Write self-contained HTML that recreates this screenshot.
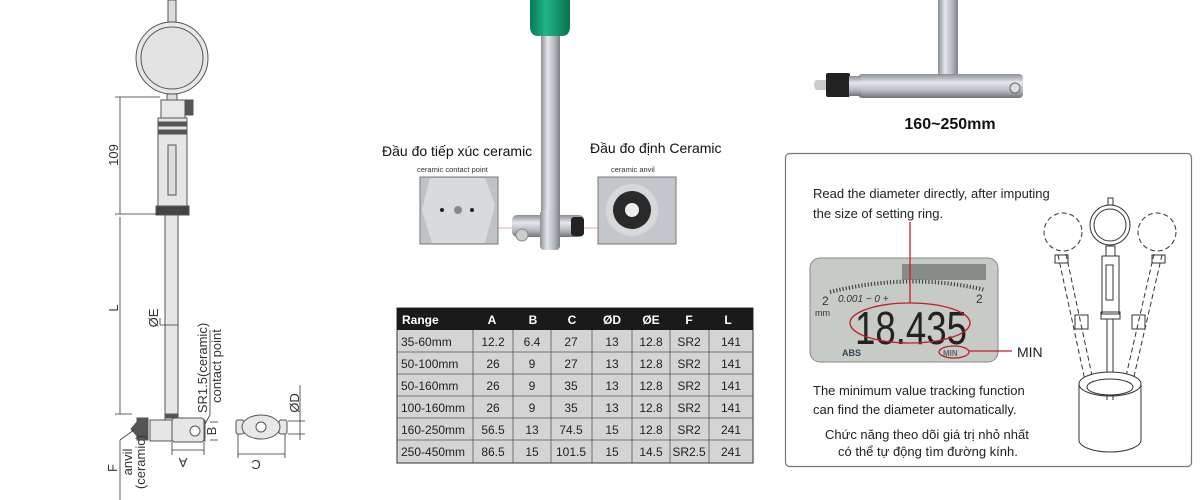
<!DOCTYPE html>
<html><head><meta charset="utf-8"><style>
html,body{margin:0;padding:0;background:#fff;width:1200px;height:500px;overflow:hidden}
svg{display:block}
text{font-family:"Liberation Sans","DejaVu Sans",sans-serif}
</style></head><body>
<svg width="1200" height="500" viewBox="0 0 1200 500" xmlns="http://www.w3.org/2000/svg">
<defs>
<linearGradient id="metal" x1="0" x2="1" y1="0" y2="0">
<stop offset="0" stop-color="#8a8f95"/><stop offset="0.35" stop-color="#e4e7ea"/><stop offset="0.7" stop-color="#b5babf"/><stop offset="1" stop-color="#7c8187"/></linearGradient>
<linearGradient id="metalH" x1="0" x2="0" y1="0" y2="1">
<stop offset="0" stop-color="#8a8f95"/><stop offset="0.35" stop-color="#e4e7ea"/><stop offset="0.7" stop-color="#b5babf"/><stop offset="1" stop-color="#6f747a"/></linearGradient>
<linearGradient id="green" x1="0" x2="1"><stop offset="0" stop-color="#0a7a55"/><stop offset="0.4" stop-color="#1fb586"/><stop offset="1" stop-color="#0a6f4d"/></linearGradient>
</defs>

<!-- ===== LEFT DRAWING ===== -->
<g stroke="#555" fill="#eee" stroke-width="1">
<rect x="168" y="0" width="8" height="22" fill="#ddd"/>
<circle cx="172" cy="58" r="36" fill="#e8e8e8"/>
<circle cx="172" cy="58" r="31" fill="#e3e3e3"/>
<rect x="167" y="94" width="10" height="6" fill="#ddd"/>
<rect x="161" y="100" width="24" height="18" fill="#e8e8e8"/>
<rect x="185" y="100" width="8" height="15" fill="#555"/>
<path d="M158 118 H187 V210 H158 Z" fill="#e6e6e6"/>
<rect x="158" y="122" width="29" height="4" fill="#555"/>
<rect x="158" y="130" width="29" height="4" fill="#555"/>
<rect x="168" y="145" width="8" height="50" fill="#ddd"/>
<rect x="156" y="206" width="33" height="9" fill="#444"/>
<rect x="165" y="215" width="13" height="205" fill="#e6e6e6"/>
<rect x="165" y="414" width="13" height="4" fill="#555"/>
<rect x="150" y="420" width="55" height="21" fill="#e6e6e6"/>
<rect x="172" y="418" width="32" height="24" rx="3" fill="#e6e6e6"/>
<circle cx="195" cy="431" r="5" fill="#fff"/>
<rect x="137" y="418" width="11" height="22" fill="#555"/>
<path d="M137 422 L131 429 L137 436Z" fill="#555"/>
</g>
<g stroke="#333" stroke-width="0.8" fill="none">
<line x1="115" y1="97" x2="160" y2="97"/><line x1="115" y1="214" x2="160" y2="214"/>
<line x1="120" y1="97" x2="120" y2="214"/>
<line x1="120" y1="217" x2="120" y2="414"/>
<line x1="115" y1="414" x2="132" y2="414"/>
<line x1="160" y1="325" x2="178" y2="325"/><line x1="160" y1="318" x2="160" y2="325"/>
<line x1="172" y1="442" x2="172" y2="455"/><line x1="204" y1="442" x2="204" y2="455"/>
<line x1="172" y1="450" x2="204" y2="450"/>
<line x1="210" y1="422" x2="218" y2="422"/><line x1="210" y1="440" x2="218" y2="440"/>
<line x1="210" y1="330" x2="210" y2="415"/><line x1="210" y1="415" x2="205" y2="424"/>
<line x1="120" y1="440" x2="134" y2="430"/><line x1="120" y1="440" x2="120" y2="500"/>
<line x1="238" y1="432" x2="238" y2="458"/><line x1="285" y1="432" x2="285" y2="458"/>
<line x1="238" y1="454" x2="285" y2="454"/>
<line x1="288" y1="421" x2="305" y2="421"/><line x1="288" y1="434" x2="305" y2="434"/>
<line x1="300" y1="385" x2="300" y2="440"/>
</g>
<g stroke="#555" fill="#e8e8e8">
<rect x="236" y="420" width="8" height="14" rx="2"/><rect x="279" y="420" width="8" height="14" rx="2"/>
<ellipse cx="261" cy="427" rx="19" ry="12"/>
<circle cx="261" cy="427" r="5" fill="#fff"/>
</g>
<g fill="#333" font-size="13">
<text transform="translate(118,155) rotate(-90)" text-anchor="middle">109</text>
<text transform="translate(118,308) rotate(-90)" text-anchor="middle">L</text>
<text transform="translate(158,318) rotate(-90)" text-anchor="middle">ØE</text>
<text transform="translate(207,368) rotate(-90)" text-anchor="middle">SR1.5(ceramic)</text>
<text transform="translate(221,366) rotate(-90)" text-anchor="middle">contact point</text>
<text transform="translate(216,431) rotate(-90)" text-anchor="middle">B</text>
<text transform="translate(183,458) rotate(180)" text-anchor="middle">A</text>
<text transform="translate(256,460) rotate(180)" text-anchor="middle">C</text>
<text transform="translate(299,403) rotate(-90)" text-anchor="middle">ØD</text>
<text transform="translate(117,468) rotate(-90)" text-anchor="middle">F</text>
<text transform="translate(132,462) rotate(-90)" text-anchor="middle">anvil</text>
<text transform="translate(145,462) rotate(-90)" text-anchor="middle">(ceramic)</text>
</g>

<!-- ===== MIDDLE PHOTO ===== -->
<path d="M530 0 H570 V26 Q570 36 562 36 H538 Q530 36 530 26Z" fill="url(#green)"/>
<rect x="541" y="36" width="19" height="182" fill="url(#metal)"/>
<rect x="512" y="215" width="72" height="22" rx="5" fill="url(#metalH)"/>
<rect x="540" y="210" width="20" height="40" rx="4" fill="url(#metal)"/>
<rect x="571" y="217" width="13" height="19" rx="3" fill="#222"/>
<circle cx="522" cy="235" r="6" fill="#ccc" stroke="#888"/>
<line x1="498" y1="228" x2="512" y2="228" stroke="#e66" stroke-width="0.6"/>
<line x1="584" y1="228" x2="598" y2="228" stroke="#e66" stroke-width="0.6"/>
<g font-size="14" fill="#111">
<text x="382" y="156">Đầu đo tiếp xúc ceramic</text>
<text x="590" y="153">Đầu đo  định Ceramic</text>
</g>
<g font-size="7.5" fill="#333">
<text x="417" y="172">ceramic contact point</text>
<text x="611" y="172">ceramic anvil</text>
</g>
<rect x="420" y="177" width="78" height="67" fill="#bfc3c7" stroke="#777"/>
<path d="M430 178 L485 178 L495 205 L485 243 L432 243 L422 210Z" fill="#d8dbde"/>
<circle cx="458" cy="210" r="4" fill="#888"/><circle cx="442" cy="210" r="2" fill="#222"/><circle cx="472" cy="210" r="2" fill="#222"/>
<rect x="598" y="177" width="78" height="67" fill="#c3c7cb" stroke="#777"/>
<circle cx="632" cy="210" r="26" fill="#d6d9dc"/>
<circle cx="632" cy="210" r="19" fill="#2a2a2a"/>
<circle cx="632" cy="210" r="7" fill="#eee"/>

<!-- ===== TABLE ===== -->
<g font-size="12" fill="#222">
<rect x="397" y="308" width="356" height="155" fill="#d4d4d4" stroke="#333"/>
<rect x="397" y="308" width="356" height="22" fill="#1a1a1a"/>
<g font-weight="bold" fill="#fff">
<text x="402" y="324">Range</text>
<text x="492" y="324" text-anchor="middle">A</text>
<text x="533" y="324" text-anchor="middle">B</text>
<text x="572" y="324" text-anchor="middle">C</text>
<text x="612" y="324" text-anchor="middle">ØD</text>
<text x="651" y="324" text-anchor="middle">ØE</text>
<text x="689" y="324" text-anchor="middle">F</text>
<text x="728" y="324" text-anchor="middle">L</text>
</g>
<g stroke="#555" stroke-width="0.8">
<line x1="397" y1="352" x2="753" y2="352"/><line x1="397" y1="374" x2="753" y2="374"/>
<line x1="397" y1="396" x2="753" y2="396"/><line x1="397" y1="418" x2="753" y2="418"/>
<line x1="397" y1="440" x2="753" y2="440"/>
<line x1="473" y1="330" x2="473" y2="463"/><line x1="513" y1="330" x2="513" y2="463"/>
<line x1="551" y1="330" x2="551" y2="463"/><line x1="592" y1="330" x2="592" y2="463"/>
<line x1="632" y1="330" x2="632" y2="463"/><line x1="670" y1="330" x2="670" y2="463"/>
<line x1="709" y1="330" x2="709" y2="463"/>
</g>
<g>
<text x="401" y="346">35-60mm</text><text x="401" y="368">50-100mm</text><text x="401" y="390">50-160mm</text>
<text x="401" y="412">100-160mm</text><text x="401" y="434">160-250mm</text><text x="401" y="456">250-450mm</text>
</g>
<g text-anchor="middle">
<text x="493" y="346">12.2</text><text x="532" y="346">6.4</text><text x="571" y="346">27</text><text x="612" y="346">13</text><text x="651" y="346">12.8</text><text x="689" y="346">SR2</text><text x="731" y="346">141</text>
<text x="493" y="368">26</text><text x="532" y="368">9</text><text x="571" y="368">27</text><text x="612" y="368">13</text><text x="651" y="368">12.8</text><text x="689" y="368">SR2</text><text x="731" y="368">141</text>
<text x="493" y="390">26</text><text x="532" y="390">9</text><text x="571" y="390">35</text><text x="612" y="390">13</text><text x="651" y="390">12.8</text><text x="689" y="390">SR2</text><text x="731" y="390">141</text>
<text x="493" y="412">26</text><text x="532" y="412">9</text><text x="571" y="412">35</text><text x="612" y="412">13</text><text x="651" y="412">12.8</text><text x="689" y="412">SR2</text><text x="731" y="412">141</text>
<text x="493" y="434">56.5</text><text x="532" y="434">13</text><text x="571" y="434">74.5</text><text x="612" y="434">15</text><text x="651" y="434">12.8</text><text x="689" y="434">SR2</text><text x="731" y="434">241</text>
<text x="493" y="456">86.5</text><text x="532" y="456">15</text><text x="571" y="456">101.5</text><text x="612" y="456">15</text><text x="651" y="456">14.5</text><text x="689" y="456">SR2.5</text><text x="731" y="456">241</text>
</g>
</g>

<!-- ===== TOP RIGHT PHOTO ===== -->
<rect x="938" y="0" width="20" height="75" fill="url(#metal)"/>
<rect x="858" y="74" width="165" height="24" rx="4" fill="url(#metalH)"/>
<rect x="826" y="73" width="24" height="24" rx="2" fill="#222"/>
<path d="M826 80 H816 Q812 85 816 90 H826Z" fill="#ccc"/>
<rect x="849" y="76" width="12" height="20" fill="url(#metalH)"/>
<circle cx="1015" cy="88" r="5" fill="#ddd" stroke="#666"/>
<text x="950" y="129" font-size="16" font-weight="bold" fill="#111" text-anchor="middle">160~250mm</text>

<!-- ===== RIGHT BOX ===== -->
<rect x="785.5" y="153.5" width="406" height="313" rx="4" fill="#fff" stroke="#777" stroke-width="1.2"/>
<g font-size="13" fill="#222">
<text x="813" y="198">Read the diameter directly, after imputing</text>
<text x="813" y="218">the size of  setting ring.</text>
<text x="813" y="395">The minimum value tracking function</text>
<text x="813" y="414">can find the diameter automatically.</text>
<text x="825" y="439">Chức năng theo dõi giá trị nhỏ nhất</text>
<text x="838" y="456">có thể tự động tìm đường kính.</text>
</g>
<rect x="810" y="258" width="188" height="104" rx="10" fill="#c6ccc5" stroke="#888"/>
<g fill="#333">
<rect x="902" y="264" width="84" height="16" fill="#555" opacity="0.55"/>
<path d="M830 292 Q910 272 985 290" stroke="#444" stroke-width="4" stroke-dasharray="1.2 2" fill="none"/>
<text x="822" y="305" font-size="12">2</text><text x="976" y="303" font-size="12">2</text>
<text x="815" y="316" font-size="9">mm</text>
<text x="838" y="302" font-size="10" font-style="italic">0.001 − 0 +</text>
<text x="855" y="344" font-size="46" fill="#222" textLength="112" lengthAdjust="spacingAndGlyphs">18.435</text>
<text x="842" y="356" font-size="9" font-weight="bold" fill="#345">ABS</text>
<text x="943" y="356" font-size="8" font-weight="bold" fill="#567">MIN</text>
</g>
<g stroke="#c31e2a" stroke-width="1.3" fill="none">
<line x1="910" y1="222" x2="910" y2="303"/>
<ellipse cx="910" cy="323" rx="60" ry="20"/>
<ellipse cx="954" cy="352" rx="15" ry="6"/>
<line x1="969" y1="351" x2="1012" y2="351"/>
</g>
<text x="1017" y="357" font-size="14" fill="#222">MIN</text>

<!-- gauge illustration -->
<g stroke="#333" fill="none" stroke-width="1">
<rect x="1108" y="198" width="5" height="7"/>
<circle cx="1110" cy="225" r="20"/><circle cx="1110" cy="225" r="16"/>
<rect x="1106" y="246" width="9" height="10"/>
<rect x="1102" y="256" width="17" height="58"/><rect x="1106" y="265" width="7" height="35"/>
<rect x="1101" y="312" width="19" height="7"/>
<line x1="1107" y1="319" x2="1107" y2="400"/><line x1="1113" y1="319" x2="1113" y2="400"/>
<g stroke-dasharray="5 3">
<circle cx="1063" cy="232" r="19"/><circle cx="1157" cy="232" r="19"/>
<path d="M1058 255 L1086 385 M1066 254 L1094 385"/>
<path d="M1162 255 L1132 385 M1154 254 L1124 385"/>
</g>
<rect x="1055" y="255" width="13" height="8"/><rect x="1075" y="315" width="13" height="14"/>
<rect x="1152" y="255" width="13" height="8"/><rect x="1132" y="315" width="13" height="14"/>
<path d="M1079 384 L1079 440 A31 12 0 0 0 1141 440 L1141 384"/>
<ellipse cx="1110" cy="384" rx="31" ry="12" fill="#fff"/>
<ellipse cx="1110" cy="387" rx="23" ry="8"/>
</g>
</svg>
</body></html>
